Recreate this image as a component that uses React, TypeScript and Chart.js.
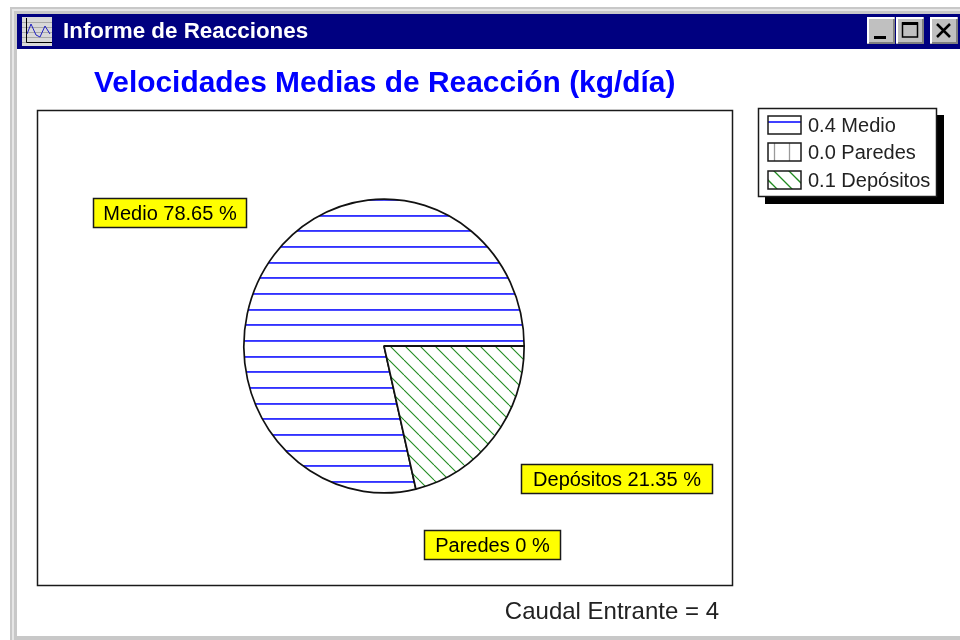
import React, { useEffect, useRef } from "react";
import { Chart, registerables } from "chart.js";

Chart.register(...registerables);

const windowTitle = "Informe de Reacciones";
const chartTitle = "Velocidades Medias de Reacción (kg/día)";
const categories = ["Medio", "Paredes", "Depósitos"];
const percentages = [78.65, 0, 21.35];
const legendRates = ["0.4", "0.0", "0.1"];
const footerText = "Caudal Entrante = 4";
const startAngle = 166.86;
const pieStretch = 1.048;
const pieCenterY = 346;

const SANS = '"Liberation Sans", Arial, sans-serif';

const labelBoxes = [
  { x: 93, y: 198, w: 154, h: 30 },
  { x: 424, y: 530, w: 137, h: 30 },
  { x: 521, y: 464, w: 192, h: 30 },
];

function tile(w: number, h: number, draw: (c: CanvasRenderingContext2D) => void) {
  const t = document.createElement("canvas");
  t.width = w;
  t.height = h;
  const c = t.getContext("2d")!;
  c.fillStyle = "#ffffff";
  c.fillRect(0, 0, w, h);
  draw(c);
  return t;
}

function makePatterns(ctx: CanvasRenderingContext2D) {
  const blue = tile(47, 47, (c) => {
    c.fillStyle = "#0000ff";
    [11, 27, 42].forEach((y) => c.fillRect(0, y + 0.2, 47, 1.5));
  });
  const green = tile(15, 15, (c) => {
    c.strokeStyle = "#1f8a1f";
    c.lineWidth = 1.1;
    [-15, 0, 15].forEach((o) => {
      c.beginPath();
      c.moveTo(o, 0);
      c.lineTo(o + 15, 15);
      c.stroke();
    });
  });
  const gray = tile(15, 15, (c) => {
    c.fillStyle = "#9a9a9a";
    c.fillRect(7, 0, 1.5, 15);
  });
  // The pie is drawn stretched; the hatch is kept in page space.
  const undo = () =>
    new DOMMatrix().translate(0, pieCenterY).scale(1, 1 / pieStretch).translate(0, -pieCenterY);
  const bp = ctx.createPattern(blue, "repeat")!;
  bp.setTransform(undo());
  const yp = ctx.createPattern(gray, "repeat")!;
  yp.setTransform(undo());
  const gp = ctx.createPattern(green, "repeat")!;
  gp.setTransform(undo().translate(14, 0));
  return [bp, yp, gp];
}

function drawFrame(ctx: CanvasRenderingContext2D) {
  ctx.fillStyle = "#ffffff";
  ctx.fillRect(0, 0, 960, 640);
  ctx.fillStyle = "#c8c8c8";
  ctx.fillRect(10, 7, 950, 7);
  ctx.fillRect(10, 7, 7, 633);
  ctx.fillRect(17, 636, 943, 4);
  ctx.fillStyle = "#e6e6e6";
  ctx.fillRect(12, 9, 948, 2);
  ctx.fillRect(12, 9, 2, 631);
  ctx.fillStyle = "#000080";
  ctx.fillRect(17, 14, 943, 35);

  // window icon
  ctx.fillStyle = "#d8d8d8";
  ctx.fillRect(22, 17, 30, 29);
  ctx.strokeStyle = "#a8a8a8";
  ctx.lineWidth = 1;
  for (let i = 0; i < 5; i++) {
    ctx.beginPath();
    ctx.moveTo(22, 22 + i * 5 + 0.5);
    ctx.lineTo(52, 22 + i * 5 + 0.5);
    ctx.stroke();
  }
  ctx.strokeStyle = "#000000";
  ctx.beginPath();
  ctx.moveTo(26.5, 18);
  ctx.lineTo(26.5, 42.5);
  ctx.lineTo(52, 42.5);
  ctx.stroke();
  ctx.strokeStyle = "#2020c0";
  ctx.beginPath();
  ctx.moveTo(27, 34);
  ctx.lineTo(31, 24);
  ctx.lineTo(36, 35);
  ctx.lineTo(40, 37);
  ctx.lineTo(45, 26);
  ctx.lineTo(50, 34);
  ctx.stroke();

  ctx.textBaseline = "alphabetic";
  ctx.textAlign = "left";
  ctx.fillStyle = "#ffffff";
  ctx.font = `bold 22.4px ${SANS}`;
  ctx.fillText(windowTitle, 63, 38);

  // caption buttons
  const btn = (x: number) => {
    ctx.fillStyle = "#c0c0c0";
    ctx.fillRect(x, 17, 28, 27);
    ctx.fillStyle = "#ffffff";
    ctx.fillRect(x, 17, 27, 2);
    ctx.fillRect(x, 17, 2, 26);
    ctx.fillStyle = "#808080";
    ctx.fillRect(x + 2, 42, 26, 2);
    ctx.fillRect(x + 26, 19, 2, 25);
  };
  [867, 896, 930].forEach(btn);
  ctx.fillStyle = "#000000";
  ctx.fillRect(874, 36, 12, 3);
  ctx.strokeStyle = "#000000";
  ctx.lineWidth = 1.5;
  ctx.strokeRect(902.5, 23, 15, 14);
  ctx.fillRect(902, 22, 16, 3);
  ctx.lineWidth = 2.5;
  ctx.beginPath();
  ctx.moveTo(937, 24);
  ctx.lineTo(950, 37);
  ctx.moveTo(950, 24);
  ctx.lineTo(937, 37);
  ctx.stroke();

  // title
  ctx.fillStyle = "#0000ff";
  ctx.font = `bold 29.9px ${SANS}`;
  ctx.fillText(chartTitle, 94, 92);

  // plot box
  ctx.strokeStyle = "#1a1a1a";
  ctx.lineWidth = 1.5;
  ctx.strokeRect(37.5, 110.5, 695, 475);

  // footer
  ctx.fillStyle = "#222222";
  ctx.font = `24px ${SANS}`;
  ctx.textAlign = "right";
  ctx.fillText(footerText, 719, 619);
  ctx.textAlign = "left";
}

function drawLabels(ctx: CanvasRenderingContext2D) {
  categories.forEach((name, i) => {
    const b = labelBoxes[i];
    ctx.fillStyle = "#ffff00";
    ctx.fillRect(b.x, b.y, b.w, b.h);
    ctx.strokeStyle = "#1a1a1a";
    ctx.lineWidth = 1.5;
    ctx.strokeRect(b.x + 0.5, b.y + 0.5, b.w - 1, b.h - 1);
    ctx.fillStyle = "#000000";
    ctx.font = `20px ${SANS}`;
    ctx.textAlign = "center";
    ctx.textBaseline = "middle";
    ctx.fillText(`${name} ${percentages[i]} %`, b.x + b.w / 2, b.y + b.h / 2 + 1);
  });
  ctx.textAlign = "left";
  ctx.textBaseline = "alphabetic";
}

function drawLegend(ctx: CanvasRenderingContext2D) {
  ctx.fillStyle = "#000000";
  ctx.fillRect(765, 115, 179, 89);
  ctx.fillStyle = "#ffffff";
  ctx.fillRect(758, 108, 179, 89);
  ctx.strokeStyle = "#1a1a1a";
  ctx.lineWidth = 1.5;
  ctx.strokeRect(758.5, 108.5, 178, 88);
  const rows = [116, 143, 171];
  categories.forEach((name, i) => {
    const y = rows[i];
    ctx.save();
    ctx.beginPath();
    ctx.rect(768, y, 33, 18);
    ctx.clip();
    ctx.lineWidth = 1.3;
    if (i === 0) {
      ctx.strokeStyle = "#0000ff";
      ctx.beginPath();
      ctx.moveTo(768, y + 6);
      ctx.lineTo(801, y + 6);
      ctx.stroke();
    } else if (i === 1) {
      ctx.strokeStyle = "#9a9a9a";
      [774, 789].forEach((x) => {
        ctx.beginPath();
        ctx.moveTo(x + 0.5, y);
        ctx.lineTo(x + 0.5, y + 18);
        ctx.stroke();
      });
    } else {
      ctx.strokeStyle = "#1f8a1f";
      [-7, 8, 23].forEach((o) => {
        ctx.beginPath();
        ctx.moveTo(768 + o - 6, y - 4);
        ctx.lineTo(768 + o + 18, y + 20);
        ctx.stroke();
      });
    }
    ctx.restore();
    ctx.strokeStyle = "#1a1a1a";
    ctx.lineWidth = 1.5;
    ctx.strokeRect(768, y, 33, 18);
    ctx.fillStyle = "#222222";
    ctx.font = `20px ${SANS}`;
    ctx.textBaseline = "middle";
    ctx.fillText(`${legendRates[i]} ${name}`, 808, y + 10);
    ctx.textBaseline = "alphabetic";
  });
}

export default function App() {
  const ref = useRef<HTMLCanvasElement>(null);
  useEffect(() => {
    const canvas = ref.current!;
    const ctx = canvas.getContext("2d")!;
    const chrome = {
      id: "chrome",
      beforeDraw: (c: any) => drawFrame(c.ctx),
      beforeDatasetsDraw: (c: any) => {
        c.ctx.save();
        c.ctx.translate(0, pieCenterY);
        c.ctx.scale(1, pieStretch);
        c.ctx.translate(0, -pieCenterY);
      },
      afterDatasetsDraw: (c: any) => {
        c.ctx.restore();
      },
      afterDraw: (c: any) => {
        drawLabels(c.ctx);
        drawLegend(c.ctx);
      },
    };
    const chart = new Chart(ctx, {
      type: "pie",
      data: {
        labels: categories,
        datasets: [
          {
            data: percentages,
            backgroundColor: makePatterns(ctx) as any,
            borderColor: "#111111",
            borderWidth: 1.7,
            hoverOffset: 0,
            clip: false,
          },
        ],
      },
      options: {
        responsive: false,
        animation: false,
        rotation: startAngle,
        layout: { padding: { left: 243, right: 435, top: 205, bottom: 153 } },
        plugins: {
          legend: { display: false },
          title: { display: false },
          tooltip: { enabled: false },
        },
      },
      plugins: [chrome],
    });
    return () => chart.destroy();
  }, []);
  return (
    <canvas
      ref={ref}
      width={960}
      height={640}
      style={{ position: "absolute", left: 0, top: 0, display: "block" }}
    />
  );
}
